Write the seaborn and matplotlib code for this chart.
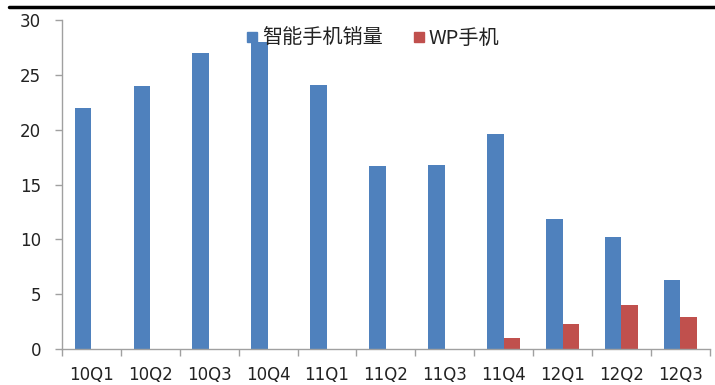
import matplotlib
matplotlib.use("Agg")
import matplotlib.pyplot as plt
import seaborn as sns
import pandas as pd
from matplotlib.lines import Line2D

quarters = ["10Q1", "10Q2", "10Q3", "10Q4", "11Q1", "11Q2", "11Q3", "11Q4", "12Q1", "12Q2", "12Q3"]
smartphone = [22.0, 24.0, 27.0, 28.0, 24.1, 16.7, 16.8, 19.6, 11.9, 10.2, 6.3]
wp_phone = [0, 0, 0, 0, 0, 0, 0, 1.0, 2.3, 4.0, 2.9]
series_names = ["智能手机销量", "WP手机"]
colors = ["#4F81BD", "#C0504D"]
yticks = [0, 5, 10, 15, 20, 25, 30]

df = pd.DataFrame({
    "quarter": quarters * 2,
    "value": smartphone + wp_phone,
    "series": [series_names[0]] * len(quarters) + [series_names[1]] * len(quarters),
})

sns.set_theme(style="white")
plt.rcParams["font.family"] = ["Noto Sans CJK SC", "DejaVu Sans"]

fig = plt.figure(figsize=(7.15, 3.85), dpi=100)
ax = fig.add_axes([0.0867, 0.0935, 0.906, 0.8545])

sns.barplot(data=df, x="quarter", y="value", hue="series", palette=colors,
            width=0.57, gap=0, ax=ax, legend=False, saturation=1, edgecolor="none")

ax.set_ylim(0, 30)
ax.set_xlim(-0.5, len(quarters) - 0.5)
ax.set_yticks(yticks)
ax.set_yticklabels([str(t) for t in yticks], fontsize=12, color="#222222", family="DejaVu Sans")
for lbl in ax.get_xticklabels():
    lbl.set_family("DejaVu Sans")
    lbl.set_fontsize(12)
    lbl.set_color("#222222")
ax.set_xlabel("")
ax.set_ylabel("")
ax.tick_params(axis="x", which="major", length=0, pad=12)
ax.set_xticks([i - 0.5 for i in range(len(quarters) + 1)], minor=True)
ax.tick_params(axis="x", which="minor", length=5, color="#A0A0A0", width=1, direction="out", bottom=True)
ax.tick_params(axis="y", length=5, color="#A0A0A0", width=1, direction="out", left=True, pad=10)

for s in ["top", "right"]:
    ax.spines[s].set_visible(False)
for s in ["left", "bottom"]:
    ax.spines[s].set_color("#A0A0A0")
    ax.spines[s].set_linewidth(1)

handles = [Line2D([0], [0], marker="s", linestyle="", markersize=7, markerfacecolor=c, markeredgecolor=c)
           for c in colors]
leg = ax.legend(handles, series_names, loc="center", bbox_to_anchor=(0.478, 0.945), ncol=2,
                frameon=False, fontsize=14.5, handletextpad=0.1, columnspacing=1.4, handlelength=0.8,
                borderpad=0)
for t in leg.get_texts():
    t.set_color("#222222")

fig.add_artist(Line2D([0.012, 1.0], [0.981, 0.981], color="black", linewidth=2.5, transform=fig.transFigure))

fig.savefig("out.png", dpi=100)
